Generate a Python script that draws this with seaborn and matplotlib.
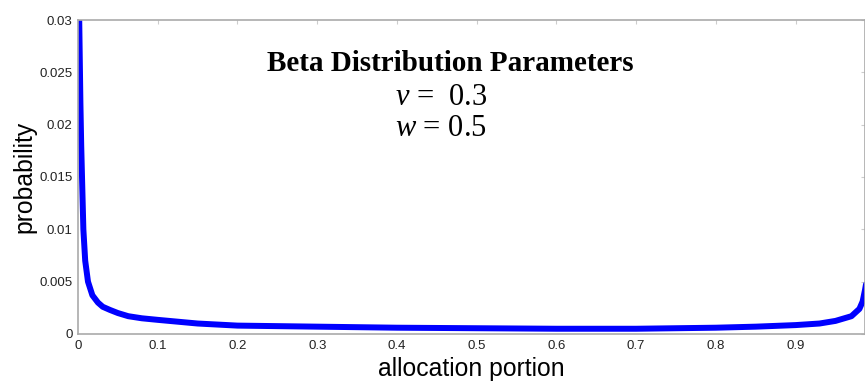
import numpy as np
import pandas as pd
import matplotlib
matplotlib.use("Agg")
import matplotlib.pyplot as plt
import seaborn as sns

# values
portion = [0.0015, 0.003, 0.004, 0.005, 0.0067, 0.009, 0.0125, 0.018, 0.025, 0.031,
           0.04, 0.05, 0.063, 0.08, 0.1, 0.15, 0.2, 0.3, 0.4, 0.5, 0.6, 0.7, 0.8,
           0.85, 0.9, 0.93, 0.95, 0.97, 0.98, 0.984, 0.987, 0.99]
prob = [0.0300, 0.0220, 0.0180, 0.0150, 0.0100, 0.0070, 0.0050, 0.0037, 0.0030, 0.0026,
        0.0023, 0.0020, 0.0017, 0.0015, 0.00135, 0.0010, 0.0008, 0.0007, 0.0006,
        0.00055, 0.0005, 0.0005, 0.0006, 0.0007, 0.00085, 0.0010, 0.00125, 0.0017,
        0.0024, 0.0031, 0.0042, 0.0055]
xtick_vals = [0, 0.1, 0.2, 0.3, 0.4, 0.5, 0.6, 0.7, 0.8, 0.9]
xtick_text = ["0", "0.1", "0.2", "0.3", "0.4", "0.5", "0.6", "0.7", "0.8", "0.9"]
ytick_vals = [0, 0.005, 0.01, 0.015, 0.02, 0.025, 0.03]
ytick_text = ["0", "0.005", "0.01", "0.015", "0.02", "0.025", "0.03"]
v_param = 0.3
w_param = 0.5

df = pd.DataFrame({"portion": portion, "prob": prob})

sns.set_style("white")
plt.rcParams["font.family"] = ["Liberation Sans", "DejaVu Sans"]
plt.rcParams["mathtext.fontset"] = "custom"
plt.rcParams["mathtext.rm"] = "Liberation Serif"
plt.rcParams["mathtext.it"] = "Liberation Serif:italic"
plt.rcParams["text.color"] = "black"
plt.rcParams["axes.labelcolor"] = "black"

fig = plt.figure(figsize=(8.65, 3.81), dpi=100)
ax = fig.add_axes([0.0902, 0.1234, 0.9098, 0.8241])

sns.lineplot(data=df, x="portion", y="prob", color="#0000ff", linewidth=4.3, ax=ax)

ax.set_xlim(0, 0.987)
ax.set_ylim(0, 0.03)
ax.set_xticks(xtick_vals)
ax.set_xticklabels(xtick_text)
ax.set_yticks(ytick_vals)
ax.set_yticklabels(ytick_text)
ax.tick_params(direction="in", length=3, color="#cccccc", labelcolor="#222222",
               labelsize=9.5, top=True, right=True, pad=4)
for sp in ax.spines.values():
    sp.set_color("#aaaaaa")
    sp.set_linewidth(1.2)

ax.set_xlabel("allocation portion", fontsize=17.8, labelpad=4)
ax.set_ylabel("probability", fontsize=17.8, labelpad=2)

ax.text(0.473, 0.863, "Beta Distribution Parameters", transform=ax.transAxes,
        ha="center", va="center", fontsize=21, fontweight="bold",
        family="Liberation Serif")
ax.text(0.461, 0.752, r"$\mathit{v}$ =  " + str(v_param), transform=ax.transAxes,
        ha="center", va="center", fontsize=22, family="Liberation Serif")
ax.text(0.461, 0.656, r"$\mathit{w}$ = " + str(w_param), transform=ax.transAxes,
        ha="center", va="center", fontsize=22, family="Liberation Serif")

fig.savefig("out.png", dpi=100)
